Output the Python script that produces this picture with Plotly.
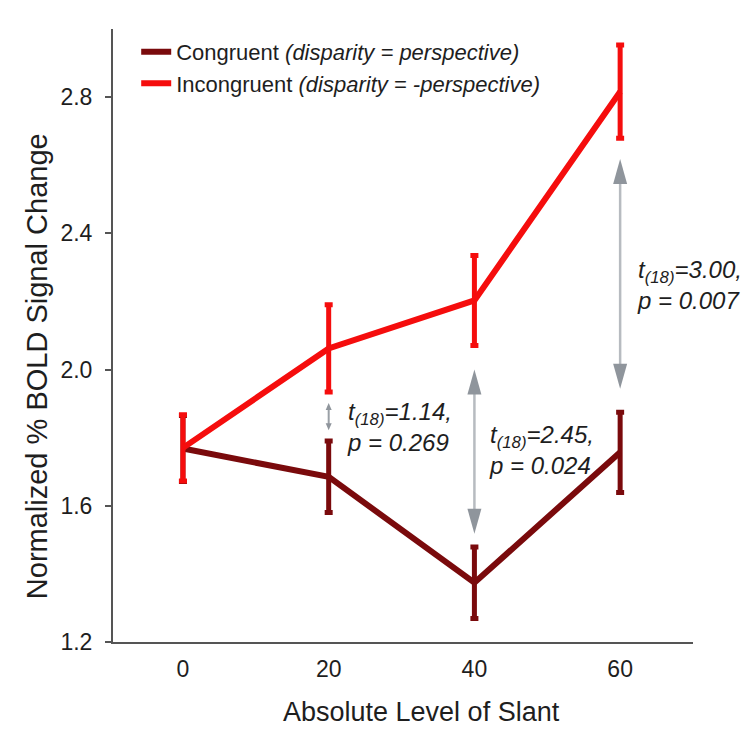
import plotly.graph_objects as go

# ---- data ----
slant = [0, 20, 40, 60]
congruent = [1.768, 1.685, 1.374, 1.757]
congruent_err = [0.097, 0.105, 0.105, 0.118]
incongruent = [1.770, 2.062, 2.203, 2.816]
incongruent_err = [0.097, 0.128, 0.132, 0.137]

y_ticks = [1.2, 1.6, 2.0, 2.4, 2.8]
x_ticks = [0, 20, 40, 60]

# comparison arrows: x, upper tip, lower tip
arrow_x = [20, 40, 60]
arrow_top = [1.902, 2.000, 2.618]
arrow_bot = [1.822, 1.518, 1.944]
stat_text = [
    "<i>t<sub>(18)</sub>=1.14,<br>p = 0.269</i>",
    "<i>t<sub>(18)</sub>=2.45,<br>p = 0.024</i>",
    "<i>t<sub>(18)</sub>=3.00,<br>p = 0.007</i>",
]
stat_x = [22.2, 41.7, 62.0]
stat_y = [1.831, 1.764, 2.248]

C_DARK = "#7a0a0c"
C_RED = "#f50d0d"
FONT = "Liberation Sans, Arial, sans-serif"
TXT = "#1e1e1e"

W, H = 752, 739
ML, MR, MT, MB = 113, 59, 29, 97
XR = [-9.6, 70]
YR = [1.2, 3.0]
xs = (XR[1] - XR[0]) / (W - ML - MR)
ys = (YR[1] - YR[0]) / (H - MT - MB)

fig = go.Figure()
fig.add_trace(go.Scatter(
    x=slant, y=congruent, mode="lines", name="Congruent <i>(disparity = perspective)</i>",
    line=dict(color=C_DARK, width=6),
    error_y=dict(type="data", array=congruent_err, color=C_DARK, thickness=5, width=4),
))
fig.add_trace(go.Scatter(
    x=slant, y=incongruent, mode="lines", name="Incongruent <i>(disparity = -perspective)</i>",
    line=dict(color=C_RED, width=6),
    error_y=dict(type="data", array=incongruent_err, color=C_RED, thickness=5, width=4),
))

shapes = []
for i, (ax_, yt, yb) in enumerate(zip(arrow_x, arrow_top, arrow_bot)):
    small = i == 0
    head_len = 7 if small else 25
    head_w = 6 if small else 14
    shaft_col = "#9aa0a6" if small else "#b7bbc0"
    head_col = "#8f959c"
    shapes.append(dict(type="line", xref="x", yref="y", x0=ax_, x1=ax_,
                       y0=yb + head_len * ys * 0.5, y1=yt - head_len * ys * 0.5,
                       line=dict(color=shaft_col, width=2 if small else 2.5), layer="above"))
    hw = head_w / 2 * xs
    hl = head_len * ys
    up = f"M{ax_},{yt} L{ax_ - hw},{yt - hl} L{ax_ + hw},{yt - hl} Z"
    dn = f"M{ax_},{yb} L{ax_ - hw},{yb + hl} L{ax_ + hw},{yb + hl} Z"
    for p in (up, dn):
        shapes.append(dict(type="path", xref="x", yref="y", path=p,
                           fillcolor=head_col, line=dict(width=0), layer="above"))

annotations = []
for t, x_, y_ in zip(stat_text, stat_x, stat_y):
    annotations.append(dict(x=x_, y=y_, xref="x", yref="y", text=t, showarrow=False,
                            xanchor="left", yanchor="middle", align="left",
                            font=dict(family=FONT, size=24, color=TXT)))

# axis titles
annotations.append(dict(x=0.5325, y=-0.115, xref="paper", yref="paper",
                        text="Absolute Level of Slant", showarrow=False,
                        xanchor="center", yanchor="middle",
                        font=dict(family=FONT, size=27, color=TXT)))
annotations.append(dict(x=-0.131, y=0.45, xref="paper", yref="paper",
                        text="Normalized % BOLD Signal Change", showarrow=False, textangle=-90,
                        xanchor="center", yanchor="middle",
                        font=dict(family=FONT, size=29, color=TXT)))

fig.update_layout(
    width=W, height=H,
    margin=dict(l=ML, r=MR, t=MT, b=MB),
    paper_bgcolor="white", plot_bgcolor="white",
    font=dict(family=FONT, color=TXT),
    showlegend=True,
    legend=dict(x=0.04, y=0.997, xanchor="left", yanchor="top",
                font=dict(family=FONT, size=22, color=TXT),
                bgcolor="rgba(0,0,0,0)", tracegroupgap=0, itemwidth=30),
    shapes=shapes,
    annotations=annotations,
    xaxis=dict(range=XR, tickvals=x_ticks, ticktext=[str(v) for v in x_ticks],
               showgrid=False, zeroline=False, showline=True, linecolor="#555555", linewidth=2,
               ticks="", ticklabelstandoff=5,
               tickfont=dict(family=FONT, size=23, color=TXT)),
    yaxis=dict(range=YR, tickvals=y_ticks, ticktext=[f"{v:.1f}" for v in y_ticks],
               showgrid=False, zeroline=False, showline=True, linecolor="#555555", linewidth=2,
               ticks="outside", ticklen=6, tickwidth=1.5, tickcolor="#555555", ticklabelstandoff=8,
               tickfont=dict(family=FONT, size=23, color=TXT)),
)

fig.write_html("out.html")
